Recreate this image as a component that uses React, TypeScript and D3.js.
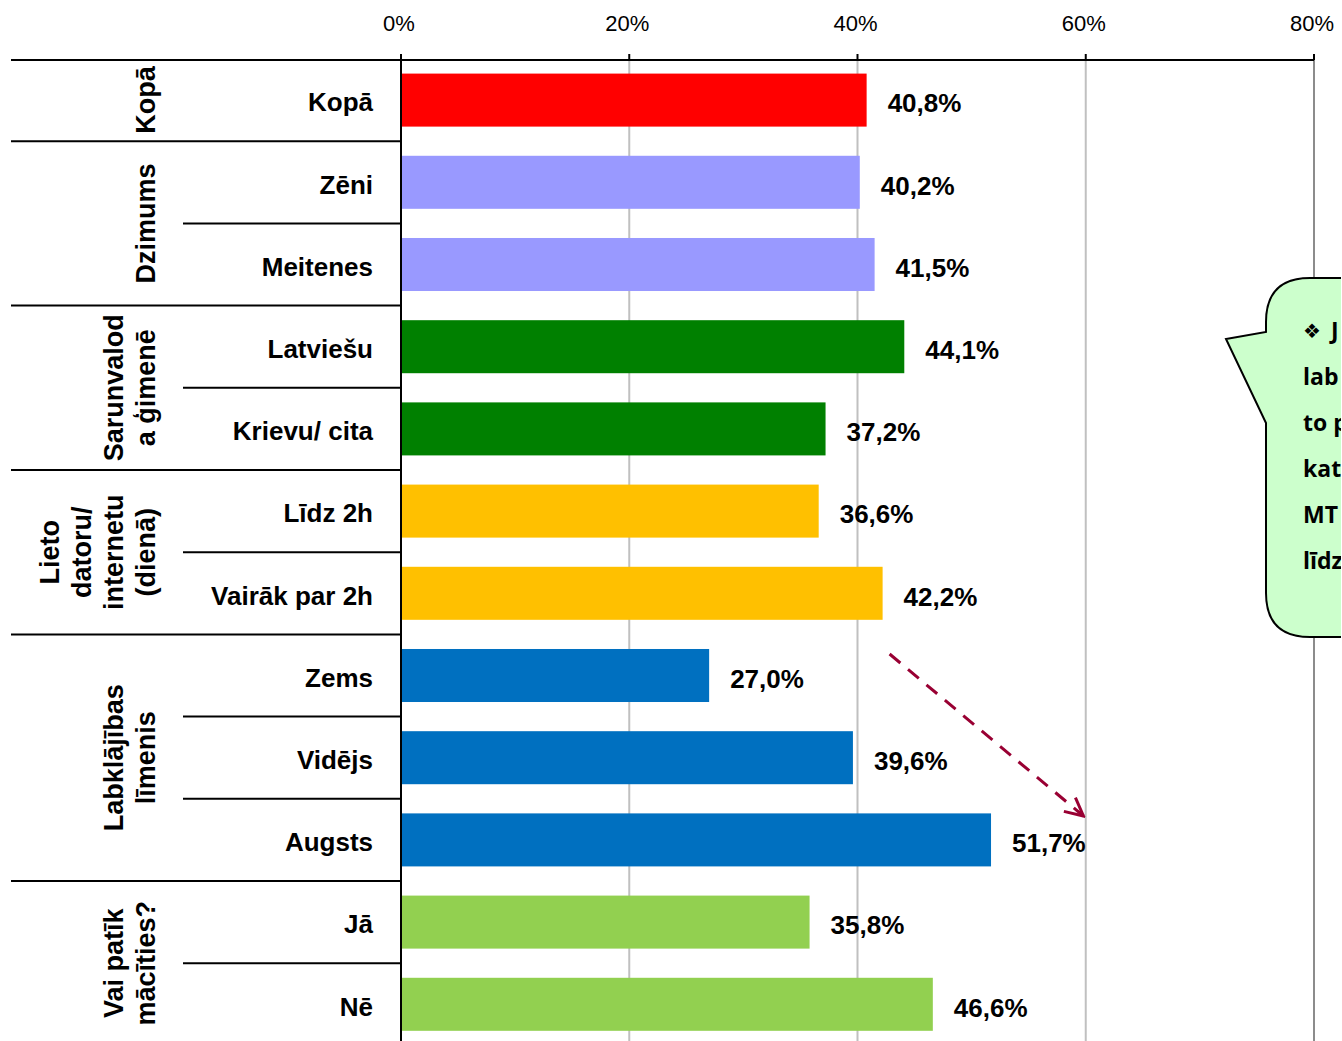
import React from "react";
import { scaleLinear, scaleBand, format } from "d3";

// categories top to bottom
const categories = [
  "Kopā",
  "Zēni",
  "Meitenes",
  "Latviešu",
  "Krievu/ cita",
  "Līdz 2h",
  "Vairāk par 2h",
  "Zems",
  "Vidējs",
  "Augsts",
  "Jā",
  "Nē",
];
const values = [40.8, 40.2, 41.5, 44.1, 37.2, 36.6, 42.2, 27.0, 39.6, 51.7, 35.8, 46.6];
const barColors = [
  "#FF0000",
  "#9999FF",
  "#9999FF",
  "#008000",
  "#008000",
  "#FFC000",
  "#FFC000",
  "#0070C0",
  "#0070C0",
  "#0070C0",
  "#92D050",
  "#92D050",
];
// group labels (lines of text) and how many categories each spans
const groupLines = [
  ["Kopā"],
  ["Dzimums"],
  ["Sarunvalod", "a ģimenē"],
  ["Lieto", "datoru/", "internetu", "(dienā)"],
  ["Labklājības", "līmenis"],
  ["Vai patīk", "mācīties?"],
];
const groupSizes = [1, 2, 2, 2, 3, 2];
const xTicks = [0, 20, 40, 60, 80];
const calloutLines = ["J", "lab", "to p", "kat", "MT", "līdz"];

const W = 1342;
const H = 1041;
const x0 = 401;
const x1 = 1314;
const yTop = 59;
const rowH = 82.2;

export default function App() {
  const x = scaleLinear().domain([0, 80]).range([x0, x1]);
  const y = scaleBand<string>()
    .domain(categories)
    .range([yTop, yTop + rowH * categories.length])
    .paddingInner(0.355)
    .paddingOuter(0.1775);
  const fmt = (v: number) => format(".1f")(v).replace(".", ",") + "%";
  const font = "'Liberation Sans', Arial, sans-serif";

  // boundaries
  const groupBounds: number[] = [];
  const subBounds: number[] = [];
  let idx = 0;
  const groupCenters: number[] = [];
  groupSizes.forEach((n) => {
    groupBounds.push(yTop + idx * rowH);
    groupCenters.push(yTop + (idx + n / 2) * rowH);
    for (let k = 1; k < n; k++) subBounds.push(yTop + (idx + k) * rowH);
    idx += n;
  });

  const lineX = [145, 113, 81, 49];

  return (
    <svg width={W} height={H} style={{ display: "block", position: "absolute", left: 0, top: 0, background: "white" }}>
      <defs>
        <clipPath id="clipAll">
          <rect x={0} y={0} width={W - 1} height={H} />
        </clipPath>
        <marker id="arr2" viewBox="0 0 24 24" refX={22} refY={12} markerWidth={24} markerHeight={24} orient="auto" markerUnits="userSpaceOnUse">
          <path d="M4,3 L22,12 L4,21" fill="none" stroke="#990033" strokeWidth={3} />
        </marker>
      </defs>
      {/* gridlines */}
      {xTicks.slice(1).map((t) => (
        <line
          key={"g" + t}
          x1={x(t)}
          x2={x(t)}
          y1={yTop}
          y2={H}
          stroke={t === 80 ? "#8C8C8C" : "#C0C0C0"}
          strokeWidth={2}
        />
      ))}
      {/* bars */}
      {categories.map((c, i) => (
        <rect
          key={c}
          x={x(0)}
          y={y(c)}
          width={x(values[i]) - x(0)}
          height={y.bandwidth()}
          fill={barColors[i]}
        />
      ))}
      {/* value labels */}
      {categories.map((c, i) => (
        <text
          key={"v" + c}
          x={x(values[i]) + 21}
          y={(y(c) as number) + y.bandwidth() / 2 + 3}
          dy="0.36em"
          fontFamily={font}
          fontWeight="bold"
          fontSize={26}
          fill="#000"
        >
          {fmt(values[i])}
        </text>
      ))}
      {/* top axis */}
      <line x1={11} x2={x1} y1={yTop + 1} y2={yTop + 1} stroke="#000" strokeWidth={2} />
      {xTicks.map((t) => (
        <g key={"t" + t}>
          <line x1={x(t)} x2={x(t)} y1={yTop - 5} y2={yTop + 1} stroke="#000" strokeWidth={2} />
          <text
            x={x(t) - 2}
            y={23}
            dy="0.36em"
            textAnchor="middle"
            fontFamily={font}
            fontSize={22}
            fill="#000"
          >
            {t + "%"}
          </text>
        </g>
      ))}
      {/* y axis */}
      <line x1={x0} x2={x0} y1={yTop - 5} y2={H} stroke="#000" strokeWidth={2} />
      {/* row boundaries */}
      {groupBounds.slice(1).map((b, i) => (
        <line key={"gb" + i} x1={11} x2={x0} y1={b} y2={b} stroke="#000" strokeWidth={2} />
      ))}
      {subBounds.map((b, i) => (
        <line key={"sb" + i} x1={183} x2={x0} y1={b} y2={b} stroke="#000" strokeWidth={2} />
      ))}
      {/* category labels */}
      {categories.map((c) => (
        <text
          key={"c" + c}
          x={373}
          y={(y(c) as number) + y.bandwidth() / 2 + 2}
          dy="0.36em"
          textAnchor="end"
          fontFamily={font}
          fontWeight="bold"
          fontSize={26}
          fill="#000"
        >
          {c}
        </text>
      ))}
      {/* group labels */}
      {groupLines.map((lines, gi) => (
        <g key={"gl" + gi}>
          {lines.map((l, li) => {
            const lx = lineX[lines.length - 1 - li];
            const cy = groupCenters[gi];
            return (
              <text
                key={li}
                transform={`translate(${lx},${cy}) rotate(-90)`}
                dy="0.36em"
                textAnchor="middle"
                fontFamily={font}
                fontWeight="bold"
                fontSize={27}
                fill="#000"
              >
                {l}
              </text>
            );
          })}
        </g>
      ))}
      {/* dashed arrow */}
      <line
        x1={x(42.2) + 7}
        y1={654}
        x2={x(59.8)}
        y2={816}
        stroke="#990033"
        strokeWidth={3}
        strokeDasharray="14 10"
        markerEnd="url(#arr2)"
      />
      {/* callout */}
      <g clipPath="url(#clipAll)">
        <path
          d="M1310,278 L1360,278 L1360,637 L1310,637 Q1266,637 1266,593 L1266,423 L1226,339 L1266,332 L1266,322 Q1266,278 1310,278 Z"
          fill="#CCFFCC"
          stroke="#000"
          strokeWidth={2}
        />
        {calloutLines.map((l, i) => (
          <text
            key={"co" + i}
            x={i === 0 ? 1331 : 1303}
            y={331 + i * 46}
            dy="0.36em"
            fontFamily="'Open Sans', sans-serif"
            fontWeight="bold"
            fontSize={23}
            fill="#000"
          >
            {l}
          </text>
        ))}
        <text
          x={1303}
          y={331}
          dy="0.36em"
          fontFamily="'DejaVu Sans', sans-serif"
          fontSize={20}
          fill="#000"
        >
          ❖
        </text>
      </g>
    </svg>
  );
}
